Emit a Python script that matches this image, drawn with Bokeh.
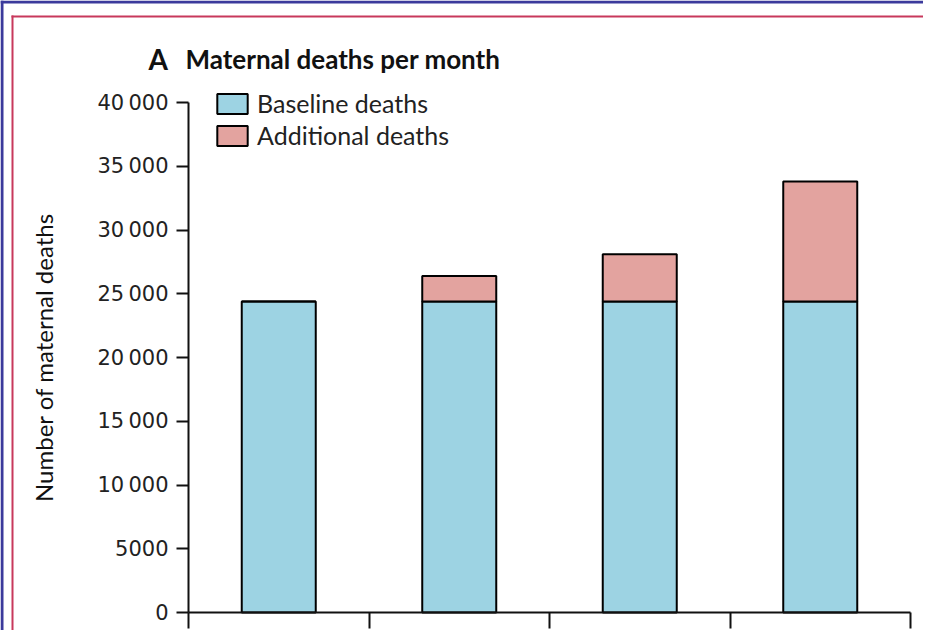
from bokeh.plotting import figure
from bokeh.models import Range1d, FixedTicker, Legend, LegendItem, Label, BoxAnnotation
from bokeh.embed import file_html
from bokeh.resources import INLINE

# ---- data ----
categories = ["Scenario 1", "Scenario 2", "Scenario 3", "Scenario 4"]
baseline_deaths = [24400, 24400, 24400, 24400]
additional_deaths = [0, 2000, 3700, 9400]
y_ticks = [0, 5000, 10000, 15000, 20000, 25000, 30000, 35000, 40000]
y_tick_labels = ["0", "5000", "10\u2009000", "15\u2009000", "20\u2009000",
                 "25\u2009000", "30\u2009000", "35\u2009000", "40\u2009000"]
title_letter = "A"
title_text = "Maternal deaths per month"
y_label = "Number of maternal deaths"
series_names = ["Baseline deaths", "Additional deaths"]

FONT = "Lato"
TICK_FONT = "DejaVu Sans"
BLUE = "#9dd3e3"
PINK = "#e3a39f"

W, H = 923, 630
# pixel geometry of the axes on the canvas
AX_LEFT, AX_RIGHT = 188, 910      # x = 0 .. n categories
AX_BOTTOM, AX_TOP = 612, 102      # y = 0 .. 40000
n = len(categories)
ppx = (AX_RIGHT - AX_LEFT) / n            # px per category
ppy = (AX_BOTTOM - AX_TOP) / y_ticks[-1]  # px per death

x_range = Range1d(-AX_LEFT / ppx, (W - AX_LEFT) / ppx)
y_range = Range1d(-(H - AX_BOTTOM) / ppy, AX_BOTTOM / ppy)

x_centers = [i + 0.5 for i in range(n)]
totals = [b + a for b, a in zip(baseline_deaths, additional_deaths)]

p = figure(width=W, height=H, output_backend="svg", toolbar_location=None,
           x_range=x_range, y_range=y_range,
           min_border_left=0, min_border_right=0, min_border_top=0,
           min_border_bottom=0)
p.grid.visible = False
p.outline_line_color = None
p.background_fill_color = "white"
p.border_fill_color = "white"


def strip(left, right, top, bottom, color):
    return BoxAnnotation(left=left, right=right, top=top, bottom=bottom,
                         left_units="canvas", right_units="canvas",
                         top_units="canvas", bottom_units="canvas",
                         fill_color=color, fill_alpha=1, line_color=None,
                         line_alpha=0, level="underlay")


# decorative frame of the reference (blue outer edge, red inner rule)
p.add_layout(strip(0, W, 0, 3, "#3b3a9c"))
p.add_layout(strip(0, 3, 0, H, "#3b3a9c"))
p.add_layout(strip(11, W, 15, 17, "#c8385c"))
p.add_layout(strip(11, 13, 15, H, "#c8385c"))

r_base = p.vbar(x=x_centers, width=0.41, bottom=0, top=baseline_deaths,
                fill_color=BLUE, line_color="black", line_width=2)
r_add = p.vbar(x=x_centers, width=0.41, bottom=baseline_deaths, top=totals,
               fill_color=PINK, line_color="black", line_width=2)

# y axis
ya = p.yaxis[0]
ya.fixed_location = 0
ya.bounds = (0, y_ticks[-1])
ya.ticker = FixedTicker(ticks=y_ticks)
ya.major_label_overrides = {t: l for t, l in zip(y_ticks, y_tick_labels)}
ya.major_tick_out = 12
ya.major_tick_in = 0
ya.minor_tick_out = 0
ya.minor_tick_in = 0
ya.axis_line_width = 2
ya.major_tick_line_width = 2
ya.axis_line_color = "#111111"
ya.major_tick_line_color = "#111111"
ya.major_label_standoff = 8
ya.major_label_text_font = TICK_FONT
ya.major_label_text_font_size = "21px"
ya.major_label_text_color = "#222222"
ya.axis_label = y_label
ya.axis_label_text_font = FONT
ya.axis_label_text_font_size = "24px"
ya.axis_label_text_font_style = "normal"
ya.axis_label_text_color = "#111111"
ya.axis_label_standoff = 37

# x axis (ticks at category boundaries, no labels)
xa = p.xaxis[0]
xa.fixed_location = 0
xa.bounds = (0, n)
xa.ticker = FixedTicker(ticks=list(range(n + 1)))
xa.major_label_overrides = {i: "" for i in range(n + 1)}
xa.major_label_text_font_size = "0px"
xa.major_label_standoff = 0
xa.major_tick_out = 16
xa.major_tick_in = 0
xa.minor_tick_out = 0
xa.minor_tick_in = 0
xa.axis_line_width = 2
xa.major_tick_line_width = 2
xa.axis_line_color = "#111111"
xa.major_tick_line_color = "#111111"

legend = Legend(items=[LegendItem(label=series_names[0], renderers=[r_base]),
                       LegendItem(label=series_names[1], renderers=[r_add])],
                location=(213, 479), orientation="vertical",
                glyph_width=38, glyph_height=25, label_height=32,
                spacing=0, padding=0, margin=0, label_standoff=6,
                border_line_color=None, background_fill_alpha=0,
                label_text_font=FONT, label_text_font_size="25px",
                label_text_color="#222222")
p.add_layout(legend)

p.add_layout(Label(x=-40 / ppx, y=(AX_BOTTOM - 58) / ppy, text=title_letter,
                   text_font=FONT, text_font_style="bold", text_font_size="28px",
                   text_baseline="alphabetic", text_color="#111111"))
p.add_layout(Label(x=-3 / ppx, y=(AX_BOTTOM - 58) / ppy, text=title_text,
                   text_font=FONT, text_font_style="bold", text_font_size="26px",
                   text_baseline="alphabetic", text_color="#111111"))

open("out.html", "w").write(file_html(p, INLINE))
